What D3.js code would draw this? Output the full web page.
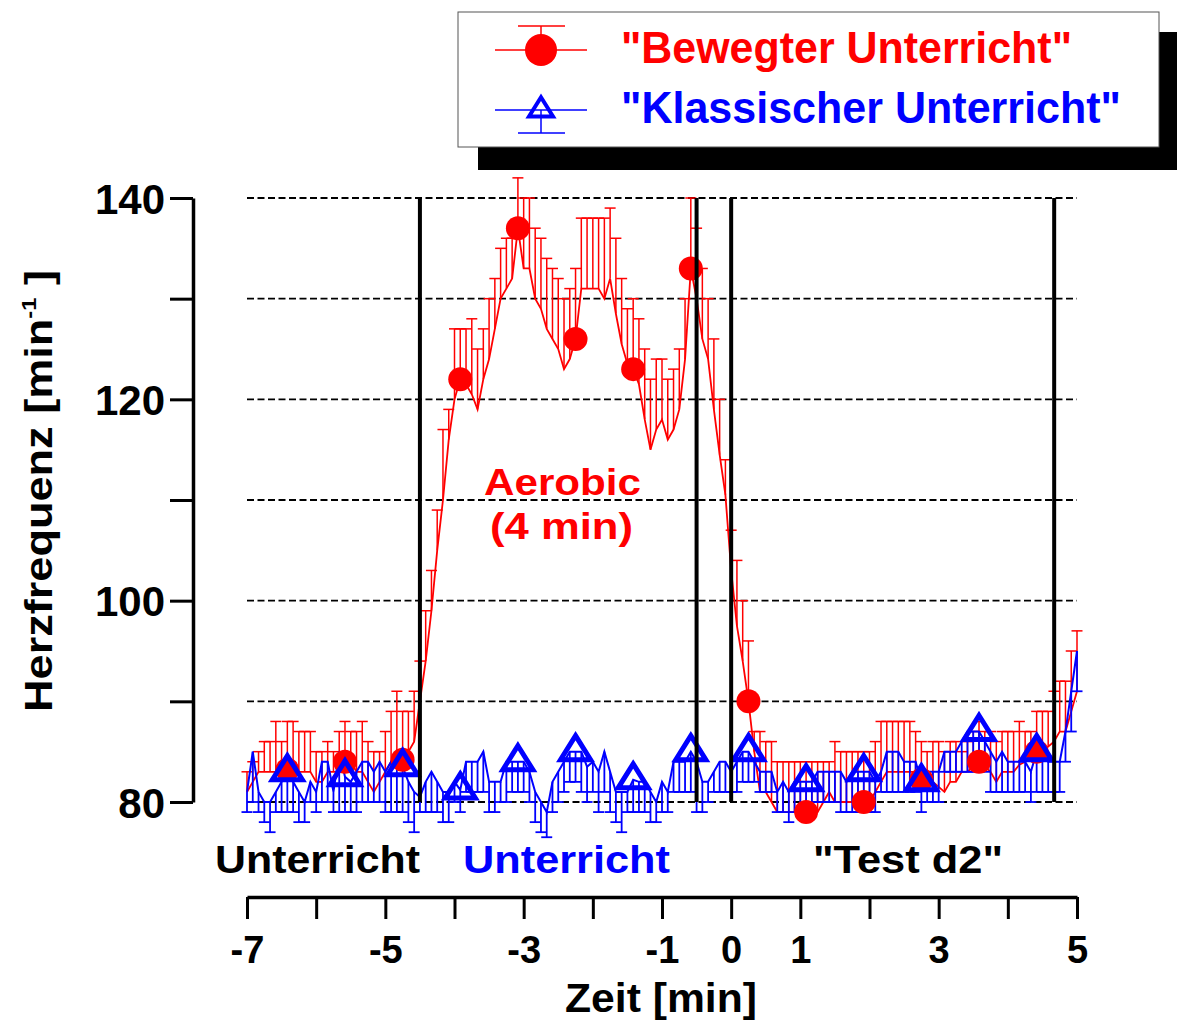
<!DOCTYPE html>
<html>
<head>
<meta charset="utf-8">
<script src="https://cdn.jsdelivr.net/npm/d3@7"></script>
<style>
  html, body { margin: 0; padding: 0; background: #fff; }
  svg { display: block; font-family: "Liberation Sans", Arial, sans-serif; font-weight: bold; }
</style>
</head>
<body>
<svg id="chart" width="1177" height="1020"></svg>
<script>
// Heart rate, sampled every 5 s from -7 min to +5 min
const startMin = -7;
const sampleStepMin = 5 / 60;

// "Bewegter Unterricht": mean and mean + SD
const redMean = [
  81, 82, 83, 83, 83, 83, 83, 83.2, 83, 83,
  83, 83, 82, 82, 83, 83, 83, 84, 84, 83,
  83, 82, 81, 82, 83, 84, 84, 84.2, 85, 86,
  90, 94, 99, 105, 110, 116, 120, 122, 121.5, 120.5,
  119, 122, 124, 127, 130, 131, 132, 137, 133, 133,
  130, 129, 127, 126, 125, 123, 124, 126, 131, 131,
  131, 131, 130, 132, 128.5, 125.5, 123.5, 123, 121.5, 118,
  115, 117, 118, 116, 117, 119, 124, 133, 130, 126,
  124, 119, 114.5, 110.5, 103, 97.5, 94, 90, 85, 81,
  81, 80, 79, 79, 79, 79, 79, 79, 79, 79,
  80, 81, 80, 80, 80, 80, 80, 80, 80, 81,
  82, 83, 83, 83, 83, 83, 83, 82.2, 82, 82,
  81.5, 81, 82, 82, 83, 83, 83.5, 84, 83.5, 83,
  82, 83, 83, 83, 83.7, 84, 84.5, 85, 85, 85.5,
  86, 87, 87, 89, 91
];
const redUpper = [
  83, 84, 85, 86, 86, 88, 86, 88, 88, 87,
  87, 87, 85, 85, 86, 85, 87, 88, 87, 87,
  88, 86, 85, 85, 87, 89, 91, 89, 89, 91,
  94, 99, 103, 109, 117, 119, 127, 127, 127, 128,
  125, 127, 130, 132, 135, 136, 136, 142, 140, 140,
  137, 136, 134, 133, 132, 130, 131, 133, 138, 138,
  138, 138, 138, 139, 136, 132, 129, 130, 128, 125,
  122, 124, 124, 122, 123, 125, 130, 140, 137, 133,
  130, 126, 120, 114, 107, 104, 100, 96, 87, 87,
  86, 86, 84, 84, 84, 84, 84, 84, 84, 84,
  84, 84, 86, 85, 85, 85, 85, 85, 85, 86,
  88, 88, 88, 88, 88, 88, 87, 86, 85, 86,
  86, 85, 86, 86, 85, 86, 87, 88, 87, 87,
  86, 87, 87, 87, 88, 87, 87, 89, 89, 89,
  91, 92, 92, 95, 97
];

// "Klassischer Unterricht": mean and mean - SD
const blueMean = [
  81, 85, 81, 80, 80, 81, 82, 83, 82, 81,
  80, 82, 81, 84, 84, 81, 85, 82.5, 82, 83,
  84, 84, 83, 84, 83, 84, 85, 83.5, 82, 81,
  80.5, 82, 83, 82, 81, 81, 82, 81.2, 84, 84,
  84, 85, 82, 82, 82, 84, 84, 84, 84, 83,
  81, 80, 79, 82, 83, 84, 85, 85, 85, 83.5,
  84, 83, 85, 83, 81, 81, 81, 82.2, 82, 82,
  81, 80, 82, 81, 84, 84, 84, 85, 84, 82,
  82, 83, 84, 84, 83, 84, 85, 85, 84, 83,
  83, 83, 81, 82, 81, 82, 82, 82, 82, 83,
  83, 83, 83, 83, 82, 83, 83, 83, 83, 82,
  83, 85, 85, 85, 84, 84, 84, 82, 83, 83,
  83, 85, 85, 85, 86, 87, 87, 87, 86, 85,
  84, 85, 84, 84, 84, 84, 83, 85, 85, 84,
  84, 84, 87, 91, 95
];
const blueLower = [
  79, 80, 79, 78, 77, 79, 79, 79, 79, 78,
  78, 80, 79, 80, 80, 79, 79, 79, 79, 79,
  80, 80, 80, 80, 79, 79, 79, 79, 78, 77,
  79, 79, 79, 79, 78, 78, 80, 79, 81, 81,
  81, 81, 79, 79, 80, 80, 81, 81, 81, 80,
  78, 77, 76.5, 79, 80, 81, 82, 82, 81, 80,
  81, 79, 81, 79, 78, 77, 79, 79, 79, 79,
  78, 78, 79, 79, 81, 81, 81, 81, 79, 79,
  80, 81, 81, 81, 81, 81, 82, 82, 82, 81,
  81, 81, 79, 79, 78, 79, 79, 79, 80, 80,
  80, 80, 80, 79, 79, 79, 79, 79, 79, 79,
  81, 81, 81, 81, 81, 81, 81, 79, 80, 80,
  80, 83, 83, 83, 83, 83, 83, 83, 83, 81,
  81, 81, 81, 81, 81, 81, 80, 81, 81, 81,
  81, 81, 84, 87, 91
];

// samples that carry a symbol
const markerIndex = [7, 17, 27, 37, 47, 57, 67, 77, 87, 97, 107, 117, 127, 137];

// phase boundaries [min]
const phaseLines = [-4.5, -0.5, 0, 4.67];

// axis ticks
const yTicks = [80, 90, 100, 110, 120, 130, 140];
const yTickLabels = [80, 100, 120, 140];
const xTicks = [-7, -6, -5, -4, -3, -2, -1, 0, 1, 2, 3, 4, 5];
const xTickLabels = [-7, -5, -3, -1, 0, 1, 3, 5];
const gridValues = [80, 90, 100, 110, 120, 130, 140];

const RED = "#ff0000";
const BLUE = "#0000ff";

const svg = d3.select("#chart");

const x = d3.scaleLinear().domain([-7, 5]).range([247, 1077]);
const y = d3.scaleLinear().domain([80, 140]).range([802, 198]);

const times = redMean.map((_, i) => startMin + i * sampleStepMin);
const red = redMean.map((v, i) => ({ t: times[i], v, e: redUpper[i] }));
const blue = blueMean.map((v, i) => ({ t: times[i], v, e: blueLower[i] }));

// dashed horizontal grid
svg.append("g").selectAll("line").data(gridValues).join("line")
  .attr("x1", x(-7)).attr("x2", x(5))
  .attr("y1", d => y(d)).attr("y2", d => y(d))
  .attr("stroke", "#000").attr("stroke-width", 1.8)
  .attr("stroke-dasharray", "7,3.5");

// y axis
const yAxis = svg.append("g").attr("transform", "translate(193,0)")
  .call(d3.axisLeft(y).tickValues(yTicks).tickSize(23).tickSizeOuter(0).tickPadding(5)
    .tickFormat(d => yTickLabels.includes(d) ? String(d) : ""));
yAxis.select(".domain").attr("stroke", "#000").attr("stroke-width", 3.5);
yAxis.selectAll(".tick line").attr("stroke", "#000").attr("stroke-width", 3);
yAxis.selectAll(".tick text").attr("fill", "#000").attr("font-size", 42)
  .attr("font-family", "Liberation Sans, Arial, sans-serif").attr("font-weight", "bold")
  .attr("dy", "0.36em");

// x axis
const xAxis = svg.append("g").attr("transform", "translate(0,897)")
  .call(d3.axisBottom(x).tickValues(xTicks).tickSize(22).tickSizeOuter(0).tickPadding(17)
    .tickFormat(d => xTickLabels.includes(d) ? String(d).replace("\u2212", "-") : ""));
xAxis.select(".domain").attr("stroke", "#000").attr("stroke-width", 3.5);
xAxis.selectAll(".tick line").attr("stroke", "#000").attr("stroke-width", 3);
xAxis.selectAll(".tick text").attr("fill", "#000").attr("font-size", 38)
  .attr("font-family", "Liberation Sans, Arial, sans-serif").attr("font-weight", "bold");

// error bars
function errorBars(data, color, w) {
  const g = svg.append("g").attr("stroke", color).attr("stroke-width", w);
  g.selectAll("line.stem").data(data).join("line").attr("class", "stem")
    .attr("x1", d => x(d.t)).attr("x2", d => x(d.t))
    .attr("y1", d => y(d.v)).attr("y2", d => y(d.e));
  g.selectAll("line.cap").data(data).join("line").attr("class", "cap")
    .attr("x1", d => x(d.t) - 5.5).attr("x2", d => x(d.t) + 5.5)
    .attr("y1", d => y(d.e)).attr("y2", d => y(d.e));
}
const line = d3.line().x(d => x(d.t)).y(d => y(d.v));

errorBars(red, RED, 1.5);
svg.append("path").datum(red).attr("d", line)
  .attr("fill", "none").attr("stroke", RED).attr("stroke-width", 1.8);
errorBars(blue, BLUE, 1.8);
svg.append("path").datum(blue).attr("d", line)
  .attr("fill", "none").attr("stroke", BLUE).attr("stroke-width", 2);

// symbols
const triPath = "M0,-16L15,8L-15,8Z";
svg.append("g").selectAll("circle").data(markerIndex.map(i => red[i])).join("circle")
  .attr("cx", d => x(d.t)).attr("cy", d => y(d.v)).attr("r", 12).attr("fill", RED);
svg.append("g").selectAll("path").data(markerIndex.map(i => blue[i])).join("path")
  .attr("transform", d => `translate(${x(d.t)},${y(d.v)})`)
  .attr("d", triPath).attr("fill", "none").attr("stroke", BLUE).attr("stroke-width", 5);

// phase boundaries
svg.append("g").selectAll("line").data(phaseLines).join("line")
  .attr("x1", d => x(d)).attr("x2", d => x(d))
  .attr("y1", y(140)).attr("y2", y(80))
  .attr("stroke", "#000").attr("stroke-width", 4);

// text helper
function label(txt, xPos, yPos, size, color, len, anchor) {
  return svg.append("text").attr("x", xPos).attr("y", yPos)
    .attr("font-size", size).attr("fill", color)
    .attr("text-anchor", anchor || "start")
    .attr("textLength", len).attr("lengthAdjust", "spacingAndGlyphs")
    .text(txt);
}

label("Unterricht", 215, 873, 39, "#000", 205);
label("Unterricht", 463, 873, 39, BLUE, 207);
label("\"Test d2\"", 813, 873, 39, "#000", 190);
label("Aerobic", 484, 495, 37, RED, 157);
label("(4 min)", 490, 539, 37, RED, 143);
label("Zeit [min]", 565, 1012, 40, "#000", 192);

// y axis title
const yTitle = svg.append("g").attr("transform", "translate(52,491) rotate(-90)");
const yt = yTitle.append("text").attr("text-anchor", "middle").attr("font-size", 38).attr("fill", "#000");
yt.append("tspan").text("Herzfrequenz [min");
yt.append("tspan").attr("font-size", 20).attr("dy", -16).text("-1");
yt.append("tspan").attr("dy", 16).text(" ]");
const ytLen = yt.node().getComputedTextLength();
yt.attr("transform", `scale(${442 / ytLen},1)`);

// legend
const legend = svg.append("g");
legend.append("rect").attr("x", 478).attr("y", 32).attr("width", 700).attr("height", 138).attr("fill", "#000");
legend.append("rect").attr("x", 458).attr("y", 12).attr("width", 701).attr("height", 135)
  .attr("fill", "#fff").attr("stroke", "#555").attr("stroke-width", 1);

const lg1 = legend.append("g").attr("stroke", RED).attr("stroke-width", 1.5);
lg1.append("line").attr("x1", 495).attr("x2", 587).attr("y1", 50).attr("y2", 50);
lg1.append("line").attr("x1", 541).attr("x2", 541).attr("y1", 50).attr("y2", 26);
lg1.append("line").attr("x1", 518).attr("x2", 565).attr("y1", 26).attr("y2", 26);
legend.append("circle").attr("cx", 541).attr("cy", 50).attr("r", 16).attr("fill", RED);

const lg2 = legend.append("g").attr("stroke", BLUE).attr("stroke-width", 1.5);
lg2.append("line").attr("x1", 495).attr("x2", 587).attr("y1", 110).attr("y2", 110);
lg2.append("line").attr("x1", 541).attr("x2", 541).attr("y1", 110).attr("y2", 133);
lg2.append("line").attr("x1", 518).attr("x2", 565).attr("y1", 133).attr("y2", 133);
legend.append("path").attr("transform", "translate(541,110) scale(0.8)").attr("d", triPath)
  .attr("fill", "none").attr("stroke", BLUE).attr("stroke-width", 5);

label("\"Bewegter Unterricht\"", 621, 63, 44, RED, 451);
label("\"Klassischer Unterricht\"", 621, 123, 44, BLUE, 500);
</script>
</body>
</html>
